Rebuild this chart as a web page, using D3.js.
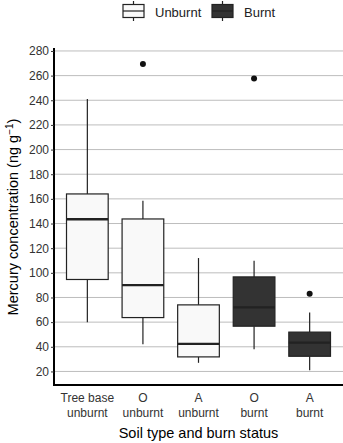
<!DOCTYPE html>
<html>
<head>
<meta charset="utf-8">
<script src="https://cdn.jsdelivr.net/npm/d3@7"></script>
<style>
  body { margin: 0; background: #fff; }
  svg { display: block; font-family: "Liberation Sans", Arial, sans-serif; }
</style>
</head>
<body>
<div id="chart"></div>
<script>
// Box statistics
const groups = ['Tree base unburnt', 'O unburnt', 'A unburnt', 'O burnt', 'A burnt'];
const labelTop = ['Tree base', 'O', 'A', 'O', 'A'];
const labelBottom = ['unburnt', 'unburnt', 'unburnt', 'burnt', 'burnt'];
const status = ['Unburnt', 'Unburnt', 'Unburnt', 'Burnt', 'Burnt'];
const whiskerLow = [60, 42, 27, 38, 21];
const q1 = [94.6, 63.7, 31.8, 56.7, 32.3];
const median = [143.5, 90, 42.4, 72, 43.4];
const q3 = [164, 143.7, 74, 96.7, 51.9];
const whiskerHigh = [241, 158.4, 112, 109.7, 67.8];
const outliers = [[], [269.5], [], [257.6], [83]];
const yTicks = [20, 40, 60, 80, 100, 120, 140, 160, 180, 200, 220, 240, 260, 280];
const legendItems = ['Unburnt', 'Burnt'];
const fills = {Unburnt: '#f9f9f9', Burnt: '#333333'};

const W = 343, H = 443;
const margin = {top: 48, right: 0, bottom: 58, left: 54};

const svg = d3.select('#chart').append('svg')
    .attr('width', W)
    .attr('height', H);

const x = d3.scalePoint()
    .domain(groups)
    .range([margin.left, W - margin.right])
    .padding(0.6);

const y = d3.scaleLinear()
    .domain([9, 282.4])
    .range([H - margin.bottom, margin.top]);

const boxW = x.step() * 0.75;

// gridlines
svg.append('g')
    .selectAll('line')
    .data(yTicks)
    .enter()
    .append('line')
    .attr('x1', margin.left)
    .attr('x2', W - margin.right)
    .attr('y1', d => y(d))
    .attr('y2', d => y(d))
    .attr('stroke', '#bdbdbd')
    .attr('stroke-width', 1);

// boxes
const data = groups.map((g, i) => ({
    g, i,
    lo: whiskerLow[i], q1: q1[i], med: median[i], q3: q3[i], hi: whiskerHigh[i],
    out: outliers[i], status: status[i]
}));

const box = svg.append('g')
    .selectAll('g')
    .data(data)
    .enter()
    .append('g');

box.append('line')
    .attr('x1', d => x(d.g)).attr('x2', d => x(d.g))
    .attr('y1', d => y(d.hi)).attr('y2', d => y(d.q3))
    .attr('stroke', '#222').attr('stroke-width', 1.2);

box.append('line')
    .attr('x1', d => x(d.g)).attr('x2', d => x(d.g))
    .attr('y1', d => y(d.q1)).attr('y2', d => y(d.lo))
    .attr('stroke', '#222').attr('stroke-width', 1.2);

box.append('rect')
    .attr('x', d => x(d.g) - boxW / 2)
    .attr('y', d => y(d.q3))
    .attr('width', boxW)
    .attr('height', d => y(d.q1) - y(d.q3))
    .attr('fill', d => fills[d.status])
    .attr('stroke', '#222')
    .attr('stroke-width', 1.2);

box.append('line')
    .attr('x1', d => x(d.g) - boxW / 2).attr('x2', d => x(d.g) + boxW / 2)
    .attr('y1', d => y(d.med)).attr('y2', d => y(d.med))
    .attr('stroke', '#222').attr('stroke-width', 2.4);

box.selectAll('circle')
    .data(d => d.out.map(v => ({g: d.g, v})))
    .enter()
    .append('circle')
    .attr('cx', d => x(d.g))
    .attr('cy', d => y(d.v))
    .attr('r', 3)
    .attr('fill', '#111');

// axes
const yAxis = svg.append('g')
    .attr('transform', `translate(${margin.left},0)`)
    .call(d3.axisLeft(y).tickValues(yTicks).tickSize(3).tickPadding(2));
yAxis.select('.domain').attr('stroke', '#000').attr('stroke-width', 2)
    .attr('d', `M0,${margin.top}V${H - margin.bottom}`);
yAxis.selectAll('.tick line').attr('stroke', '#333');
yAxis.selectAll('.tick text')
    .style('font-size', '12px')
    .attr('fill', '#333');

svg.append('line')
    .attr('x1', margin.left - 1)
    .attr('x2', W)
    .attr('y1', H - margin.bottom)
    .attr('y2', H - margin.bottom)
    .attr('stroke', '#000')
    .attr('stroke-width', 2);

const xl = svg.append('g')
    .selectAll('text')
    .data(data)
    .enter()
    .append('text')
    .attr('text-anchor', 'middle')
    .attr('x', d => x(d.g))
    .attr('fill', '#333')
    .style('font-size', '12px');
xl.append('tspan').attr('x', d => x(d.g)).attr('y', 402).text(d => labelTop[d.i]);
xl.append('tspan').attr('x', d => x(d.g)).attr('y', 417).text(d => labelBottom[d.i]);

// axis titles
svg.append('text')
    .attr('x', (margin.left + W) / 2)
    .attr('y', 438)
    .attr('text-anchor', 'middle')
    .style('font-size', '14.5px')
    .text('Soil type and burn status');

const yt = svg.append('text')
    .attr('transform', 'translate(18,217) rotate(-90)')
    .attr('text-anchor', 'middle')
    .style('font-size', '14.5px');
yt.append('tspan').text('Mercury concentration (ng g');
yt.append('tspan').attr('dy', -5).style('font-size', '10px').text('\u22121');
yt.append('tspan').attr('dy', 5).text(')');

// legend
const legend = svg.append('g')
    .selectAll('g')
    .data(legendItems)
    .enter()
    .append('g')
    .attr('transform', (d, i) => `translate(${i === 0 ? 123 : 212},0)`);

legend.append('line')
    .attr('x1', 10.5).attr('x2', 10.5).attr('y1', 1).attr('y2', 21)
    .attr('stroke', '#222').attr('stroke-width', 1.2);
legend.append('rect')
    .attr('x', 0).attr('y', 4.5).attr('width', 21).attr('height', 13)
    .attr('fill', d => fills[d]).attr('stroke', '#222').attr('stroke-width', 1.2);
legend.append('line')
    .attr('x1', 0).attr('x2', 21).attr('y1', 11).attr('y2', 11)
    .attr('stroke', '#222').attr('stroke-width', 1.2);
legend.append('text')
    .attr('x', 32)
    .attr('y', 16.5)
    .style('font-size', '13px')
    .attr('fill', '#222')
    .text(d => d);
</script>
</body>
</html>
